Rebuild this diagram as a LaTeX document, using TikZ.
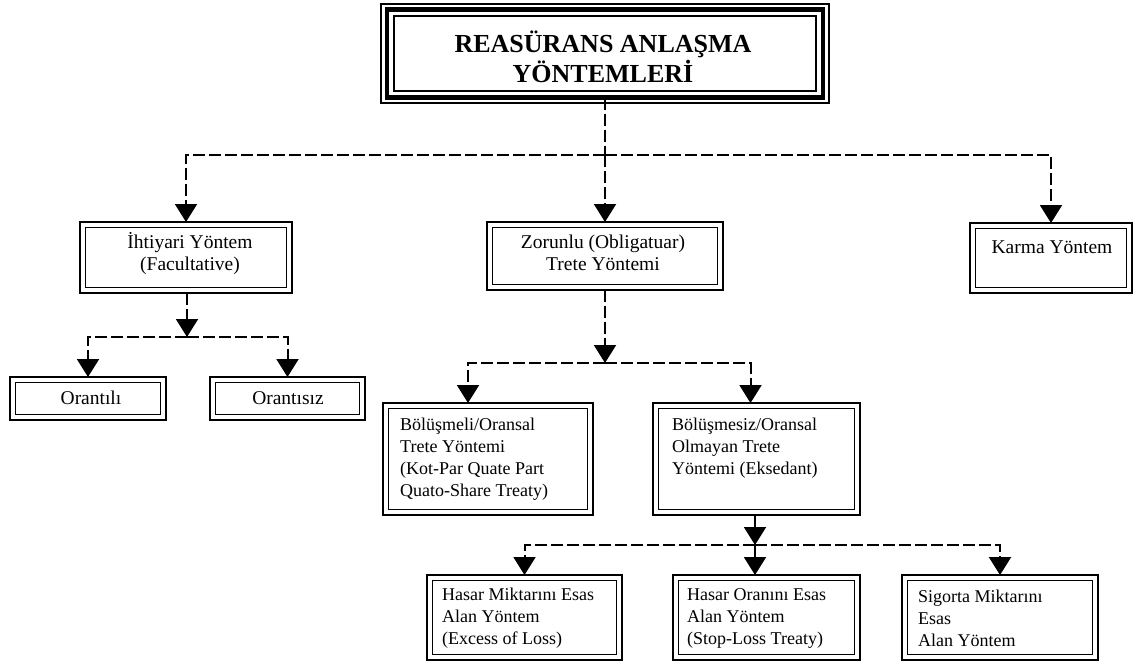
\documentclass[tikz,border=0pt]{standalone}
\usepackage{fontspec}
\setmainfont{Liberation Serif}
\usetikzlibrary{arrows.meta}
\tikzset{
  outerbox/.style={draw, line width=2.8pt, inner sep=0pt, outer sep=0pt, anchor=north west},
  innerline/.style={draw, line width=1.3pt},
  thinline/.style={draw, line width=1.5pt},
  lbl/.style={inner sep=0pt, font=\fontsize{18}{22}\selectfont},
  biglbl/.style={inner sep=0pt, font=\fontsize{19.5}{22}\selectfont},
  conn/.style={line width=2pt, dash pattern=on 12pt off 4pt},
  arr/.style={conn, -{Triangle[width=22pt,length=18pt]}}
}
\newcommand\mybox[5]{%
  \node[outerbox, minimum width={(#4-#2)*1pt}, minimum height={(#5-#3)*1pt}] (#1) at (#2,#3) {};
  \draw[innerline] ([xshift=5.5pt,yshift=-5.5pt]#1.north west) rectangle ([xshift=-5.5pt,yshift=5.5pt]#1.south east);
}
\begin{document}
\begin{tikzpicture}[x=1pt,y=-1pt]
\useasboundingbox (0,0) rectangle (1137,664);
% title triple frame
\node[draw, line width=4.5pt, inner sep=0pt, outer sep=0pt, anchor=north west,
      minimum width=436pt, minimum height=88pt] (title) at (387,9.5) {};
\draw[thinline] ([xshift=-6pt,yshift=5.5pt]title.north west) rectangle ([xshift=6pt,yshift=-5.5pt]title.south east);
\draw[thinline] ([xshift=7pt,yshift=-6.5pt]title.north west) rectangle ([xshift=-7pt,yshift=6.5pt]title.south east);
\node[inner sep=0pt, align=center, font=\fontsize{26}{30}\selectfont\bfseries] (ttitle) at (603,57) {REASÜRANS ANLAŞMA\\YÖNTEMLERİ};
% boxes
\mybox{ih}{80}{222}{292}{293}
\mybox{zo}{487}{222}{723}{290}
\mybox{ka}{970}{223}{1132}{293}
\mybox{oa}{10}{377}{166}{420}
\mybox{ob}{210}{377}{365}{420}
\mybox{bm}{383}{403}{593}{515}
\mybox{bs}{653}{403}{860}{515}
\mybox{ha}{427}{575}{622}{660}
\mybox{hb}{673}{575}{860}{660}
\mybox{hc}{902}{575}{1098}{660}
% labels
\node[biglbl, align=center] (tih) at (190,254) {İhtiyari Yöntem\\(Facultative)};
\node[biglbl, align=center] (tzo) at (603,253) {Zorunlu (Obligatuar)\\Trete Yöntemi};
\node[biglbl] (tka) at (1052,247) {Karma Yöntem};
\node[biglbl] (toa) at (91,398) {Orantılı};
\node[biglbl] (tob) at (288,398) {Orantısız};
\node[lbl, align=left, anchor=west] (tbm) at (400,459) {Bölüşmeli/Oransal\\Trete Yöntemi\\(Kot-Par Quate Part\\Quato-Share Treaty)};
\node[lbl, align=left, anchor=west] (tbs) at (672,448) {Bölüşmesiz/Oransal\\Olmayan Trete\\Yöntemi (Eksedant)};
\node[lbl, align=left, anchor=west] (tha) at (442,618) {Hasar Miktarını Esas\\Alan Yöntem\\(Excess of Loss)};
\node[lbl, align=left, anchor=west] (thb) at (687,618) {Hasar Oranını Esas\\Alan Yöntem\\(Stop-Loss Treaty)};
\node[lbl, align=left, anchor=west] (thc) at (918,618) {Sigorta Miktarını\\Esas\\Alan Yöntem};
% connectors
\coordinate (j1) at (605,155);
\coordinate (j2) at (187,337);
\coordinate (j3) at (605,363);
\coordinate (j4) at (755,545);
\draw[conn] (title.south) -- (j1);
\draw[arr] (j1) -| (ih.north);
\draw[arr] (j1) -- (zo.north);
\draw[arr] (j1) -| (ka.north);
\draw[arr] (ih.south -| j2) -- (j2);
\draw[arr] (j2) -| (oa.north);
\draw[arr] (j2) -| (ob.north);
\draw[arr] (zo.south) -- (j3);
\draw[arr] (j3) -| ([xshift=-20pt]bm.north);
\draw[arr] (j3) -| ([xshift=-6pt]bs.north);
\draw[arr] (bs.south -| j4) -- (j4);
\draw[arr] (j4) -| (ha.north);
\draw[arr] (j4) -- (hb.north -| j4);
\draw[arr] (j4) -| (hc.north);
\end{tikzpicture}
\end{document}
